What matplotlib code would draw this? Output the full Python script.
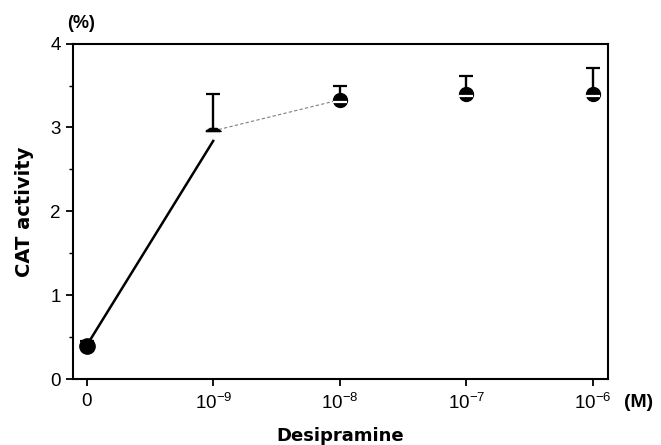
import matplotlib
matplotlib.use("Agg")
import matplotlib.pyplot as plt
import numpy as np
from matplotlib.path import Path

plt.rcParams['font.family'] = 'sans-serif'
plt.rcParams['font.sans-serif'] = ['Liberation Sans', 'DejaVu Sans']
plt.rcParams['mathtext.fontset'] = 'custom'
plt.rcParams['mathtext.rm'] = 'Liberation Sans'
plt.rcParams['mathtext.it'] = 'Liberation Sans'

# data
doses = ['0', '$10^{-9}$', '$10^{-8}$', '$10^{-7}$', '$10^{-6}$']
cat_mean = [0.40, 2.96, 3.33, 3.40, 3.40]
cat_err = [0.06, 0.44, 0.16, 0.21, 0.31]

x = np.arange(len(doses))

fig = plt.figure(figsize=(6.61, 4.45), dpi=100)
ax = fig.add_axes([0.110, 0.148, 0.810, 0.754])

# solid line from control to 10^-9, thin dashed grey line on to 10^-8
ax.plot(x[:2], [cat_mean[0], cat_mean[1] - 0.12], color='black', lw=1.8, zorder=2)
ax.plot(x[1:3], cat_mean[1:3], color='0.5', lw=0.8, ls=(0, (3, 2)), zorder=2)

# error bars (upper only)
ax.errorbar(x, cat_mean, yerr=[np.zeros(len(x)), cat_err], fmt='none',
            ecolor='black', elinewidth=1.7, capsize=5, capthick=1.6, zorder=3)

# markers
cap_marker = Path([(-1, 0), (1, 0), (0.45, 0.4), (-0.45, 0.4), (-1, 0)])
ax.plot(x[0], cat_mean[0], 'o', color='black', ms=11, zorder=4)
ax.plot(x[1], cat_mean[1], marker=cap_marker, color='black', ms=11, ls='none', zorder=4)
ax.plot(x[2:], cat_mean[2:], 'o', color='black', ms=10, ls='none', zorder=4)
ax.plot(x[2:], [m - 0.03 for m in cat_mean[2:]], '_', color='white', ms=10, mew=1.6,
        ls='none', zorder=5)

ax.set_xlim(-0.11, 4.12)
ax.set_ylim(0, 4)
ax.set_xticks(x)
ax.set_xticklabels(doses)
ax.set_yticks([0, 1, 2, 3, 4])
ax.set_yticks([0.5, 1.5, 2.5, 3.5], minor=True)
ax.tick_params(axis='both', which='major', direction='out', length=5, width=1.3,
               labelsize=13.5)
ax.tick_params(axis='x', pad=5)
ax.tick_params(axis='y', which='minor', direction='out', length=3, width=1)

for s in ax.spines.values():
    s.set_linewidth(1.5)

ax.set_ylabel('CAT activity', fontsize=14, fontweight='bold', family='DejaVu Sans',
              labelpad=12)
ax.set_xlabel('Desipramine', fontsize=13, fontweight='bold', family='DejaVu Sans',
              labelpad=10)
ax.text(-0.01, 1.035, '(%)', transform=ax.transAxes, fontsize=13, fontweight='bold',
        ha='left', va='bottom')
ax.text(1.03, -0.045, '(M)', transform=ax.transAxes, fontsize=14, fontweight='bold',
        ha='left', va='top')

fig.savefig('out.png', dpi=100)
